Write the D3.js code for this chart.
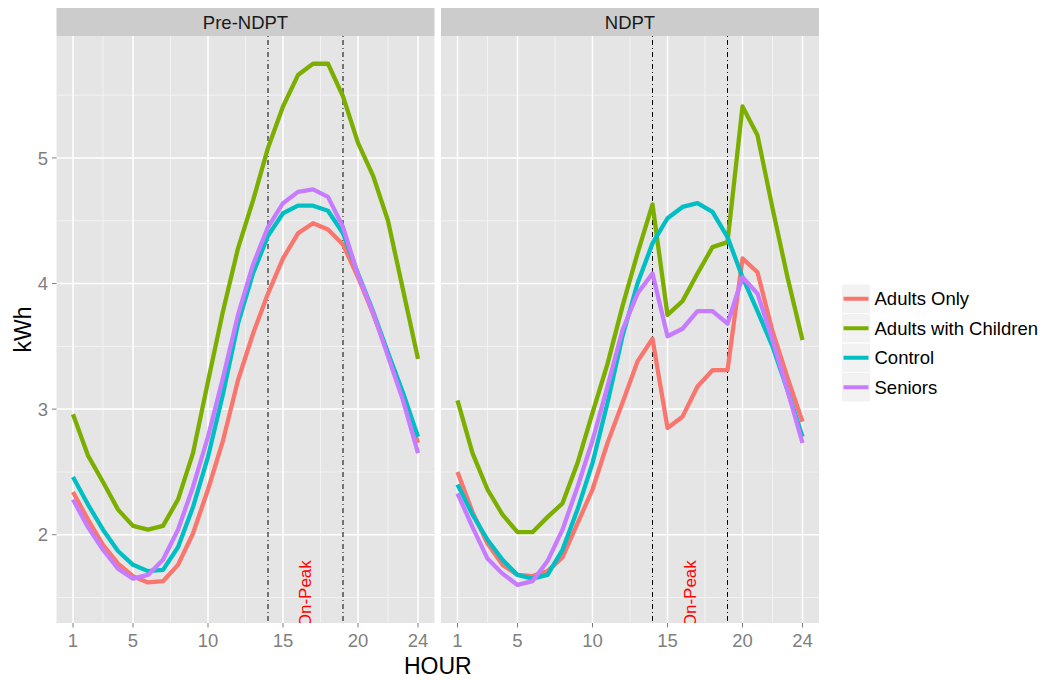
<!DOCTYPE html>
<html>
<head>
<meta charset="utf-8">
<script src="https://cdn.jsdelivr.net/npm/d3@7"></script>
<style>
  body { margin: 0; background: #fff; }
</style>
</head>
<body>
<div id="chart"></div>
<script>
// data
const hours = [1, 2, 3, 4, 5, 6, 7, 8, 9, 10, 11, 12, 13, 14, 15, 16, 17, 18, 19, 20, 21, 22, 23, 24];
const groups = ["Adults Only", "Adults with Children", "Control", "Seniors"];
const panels = ["Pre-NDPT", "NDPT"];

const preAdultsOnly = [2.34, 2.12, 1.92, 1.77, 1.67, 1.62, 1.63, 1.76, 2.01, 2.36, 2.75, 3.23, 3.60, 3.92, 4.20, 4.40, 4.48, 4.43, 4.31, 4.05, 3.76, 3.44, 3.10, 2.73];
const preAdultsChildren = [2.96, 2.63, 2.42, 2.20, 2.07, 2.04, 2.07, 2.28, 2.65, 3.22, 3.78, 4.28, 4.66, 5.08, 5.41, 5.66, 5.75, 5.75, 5.49, 5.12, 4.86, 4.50, 3.95, 3.40];
const preControl = [2.46, 2.24, 2.04, 1.87, 1.76, 1.71, 1.72, 1.90, 2.22, 2.62, 3.12, 3.68, 4.08, 4.38, 4.56, 4.62, 4.62, 4.58, 4.40, 4.08, 3.78, 3.45, 3.13, 2.78];
const preSeniors = [2.28, 2.06, 1.88, 1.73, 1.65, 1.68, 1.80, 2.04, 2.38, 2.78, 3.25, 3.75, 4.15, 4.45, 4.64, 4.73, 4.75, 4.69, 4.45, 4.07, 3.77, 3.42, 3.07, 2.65];

const ndptAdultsOnly = [2.50, 2.18, 1.93, 1.76, 1.68, 1.67, 1.71, 1.82, 2.09, 2.36, 2.73, 3.05, 3.38, 3.56, 2.85, 2.94, 3.18, 3.31, 3.31, 4.20, 4.09, 3.62, 3.25, 2.90];
const ndptAdultsChildren = [3.07, 2.65, 2.36, 2.16, 2.02, 2.02, 2.14, 2.25, 2.57, 2.97, 3.36, 3.82, 4.24, 4.63, 3.75, 3.86, 4.08, 4.29, 4.33, 5.41, 5.18, 4.60, 4.05, 3.55];
const ndptControl = [2.40, 2.16, 1.96, 1.80, 1.68, 1.65, 1.68, 1.88, 2.20, 2.57, 3.05, 3.58, 4.00, 4.32, 4.52, 4.61, 4.64, 4.57, 4.37, 4.05, 3.78, 3.50, 3.15, 2.78];
const ndptSeniors = [2.33, 2.06, 1.81, 1.69, 1.60, 1.63, 1.79, 2.04, 2.38, 2.75, 3.18, 3.63, 3.92, 4.08, 3.58, 3.64, 3.78, 3.78, 3.68, 4.05, 3.92, 3.55, 3.15, 2.73];

const xTicks = [1, 5, 10, 15, 20, 24];
const xMinor = [3, 7.5, 12.5, 17.5, 22];
const yTicks = [2, 3, 4, 5];
const yMinor = [1.5, 2.5, 3.5, 4.5, 5.5];
const peakHours = [14, 19];
const peakLabel = { x: 16.5, y: 1.53, text: "On-Peak" };

const colors = ["#F8766D", "#7CAE00", "#00BFC4", "#C77CFF"];

const series = {
  "Pre-NDPT": [preAdultsOnly, preAdultsChildren, preControl, preSeniors],
  "NDPT": [ndptAdultsOnly, ndptAdultsChildren, ndptControl, ndptSeniors]
};

// layout
const width = 1052, height = 679;
const panelW = 378;
const panelX = [56.5, 441];
const stripTop = 8, plotTop = 36, plotBottom = 623;
const font = "Arial, 'Liberation Sans', sans-serif";

const y = d3.scaleLinear([1.297, 5.971], [plotBottom, plotTop]);
const color = d3.scaleOrdinal(groups, colors);

const svg = d3.select("#chart").append("svg")
    .attr("width", width)
    .attr("height", height)
    .attr("viewBox", [0, 0, width, height])
    .attr("font-family", font);

const defs = svg.append("defs");

panels.forEach((name, p) => {
  const x0 = panelX[p];
  const x = d3.scaleLinear([-0.1, 25.1], [x0, x0 + panelW]);
  const g = svg.append("g");

  // strip
  g.append("rect")
      .attr("x", x0).attr("y", stripTop)
      .attr("width", panelW).attr("height", plotTop - stripTop)
      .attr("fill", "#CCCCCC");
  g.append("text")
      .attr("x", x0 + panelW / 2)
      .attr("y", (stripTop + plotTop) / 2)
      .attr("dy", "0.36em")
      .attr("text-anchor", "middle")
      .attr("font-size", 18.5)
      .attr("fill", "#1A1A1A")
      .text(name);

  // panel background + grid
  g.append("rect")
      .attr("x", x0).attr("y", plotTop)
      .attr("width", panelW).attr("height", plotBottom - plotTop)
      .attr("fill", "#E5E5E5");

  g.selectAll(".ymin").data(yMinor).join("line")
      .attr("x1", x0).attr("x2", x0 + panelW)
      .attr("y1", d => y(d)).attr("y2", d => y(d))
      .attr("stroke", "#F2F2F2").attr("stroke-width", 1);
  g.selectAll(".xmin").data(xMinor).join("line")
      .attr("y1", plotTop).attr("y2", plotBottom)
      .attr("x1", d => x(d)).attr("x2", d => x(d))
      .attr("stroke", "#F2F2F2").attr("stroke-width", 1);
  g.selectAll(".ymaj").data(yTicks).join("line")
      .attr("x1", x0).attr("x2", x0 + panelW)
      .attr("y1", d => y(d)).attr("y2", d => y(d))
      .attr("stroke", "#FFFFFF").attr("stroke-width", 1.5);
  g.selectAll(".xmaj").data(xTicks).join("line")
      .attr("y1", plotTop).attr("y2", plotBottom)
      .attr("x1", d => x(d)).attr("x2", d => x(d))
      .attr("stroke", "#FFFFFF").attr("stroke-width", 1.5);

  // clip to the panel
  const clipId = "clip" + p;
  defs.append("clipPath").attr("id", clipId)
    .append("rect")
      .attr("x", x0).attr("y", plotTop)
      .attr("width", panelW).attr("height", plotBottom - plotTop);

  const inner = g.append("g").attr("clip-path", `url(#${clipId})`);

  // on-peak lines (dotdash)
  inner.selectAll(".peak").data(peakHours).join("line")
      .attr("x1", d => x(d)).attr("x2", d => x(d))
      .attr("y1", plotTop).attr("y2", plotBottom)
      .attr("stroke", "#000")
      .attr("stroke-width", 1)
      .attr("stroke-dasharray", "1,3,5,3");

  // series
  const line = d3.line()
      .x((d, i) => x(hours[i]))
      .y(d => y(d));

  inner.selectAll(".series").data(series[name]).join("path")
      .attr("fill", "none")
      .attr("stroke", (d, i) => color(groups[i]))
      .attr("stroke-width", 4.3)
      .attr("stroke-linejoin", "round")
      .attr("stroke-linecap", "butt")
      .attr("d", line);

  // On-Peak annotation
  inner.append("text")
      .attr("transform", `translate(${x(peakLabel.x)},${y(peakLabel.y)}) rotate(-90)`)
      .attr("text-anchor", "middle")
      .attr("dy", "0.35em")
      .attr("font-size", 17)
      .attr("fill", "#FF0000")
      .text(peakLabel.text);

  // x axis
  const xAxis = g.append("g");
  xAxis.selectAll(".tick").data(xTicks).join("line")
      .attr("x1", d => x(d)).attr("x2", d => x(d))
      .attr("y1", plotBottom).attr("y2", plotBottom + 4.5)
      .attr("stroke", "#7F7F7F").attr("stroke-width", 1);
  xAxis.selectAll("text").data(xTicks).join("text")
      .attr("x", d => x(d))
      .attr("y", 647)
      .attr("text-anchor", "middle")
      .attr("font-size", 18.5)
      .attr("fill", "#7F7F7F")
      .text(d => d);
});

// y axis (left panel only)
const yAxis = svg.append("g");
yAxis.selectAll("line").data(yTicks).join("line")
    .attr("x1", panelX[0] - 4.5).attr("x2", panelX[0])
    .attr("y1", d => y(d)).attr("y2", d => y(d))
    .attr("stroke", "#7F7F7F").attr("stroke-width", 1);
yAxis.selectAll("text").data(yTicks).join("text")
    .attr("x", 48)
    .attr("y", d => y(d))
    .attr("dy", "0.36em")
    .attr("text-anchor", "end")
    .attr("font-size", 18.5)
    .attr("fill", "#7F7F7F")
    .text(d => d);

// axis titles
svg.append("text")
    .attr("x", (panelX[0] + panelX[1] + panelW) / 2)
    .attr("y", 674)
    .attr("text-anchor", "middle")
    .attr("font-size", 23)
    .attr("fill", "#000")
    .text("HOUR");

svg.append("text")
    .attr("transform", `translate(31,${(plotTop + plotBottom) / 2}) rotate(-90)`)
    .attr("text-anchor", "middle")
    .attr("font-size", 23)
    .attr("fill", "#000")
    .text("kWh");

// legend
const legend = svg.append("g").attr("transform", "translate(841.5,284)");
const keyW = 29, keyH = 29.5;
const item = legend.selectAll("g").data(groups).join("g")
    .attr("transform", (d, i) => `translate(0,${i * keyH})`);
item.append("rect")
    .attr("width", keyW).attr("height", keyH)
    .attr("fill", "#F2F2F2")
    .attr("stroke", "#FFFFFF").attr("stroke-width", 1);
item.append("line")
    .attr("x1", 2).attr("x2", keyW - 2)
    .attr("y1", keyH / 2).attr("y2", keyH / 2)
    .attr("stroke", d => color(d))
    .attr("stroke-width", 4);
item.append("text")
    .attr("x", keyW + 4)
    .attr("y", keyH / 2)
    .attr("dy", "0.36em")
    .attr("font-size", 18.5)
    .attr("fill", "#000")
    .text(d => d);
</script>
</body>
</html>
